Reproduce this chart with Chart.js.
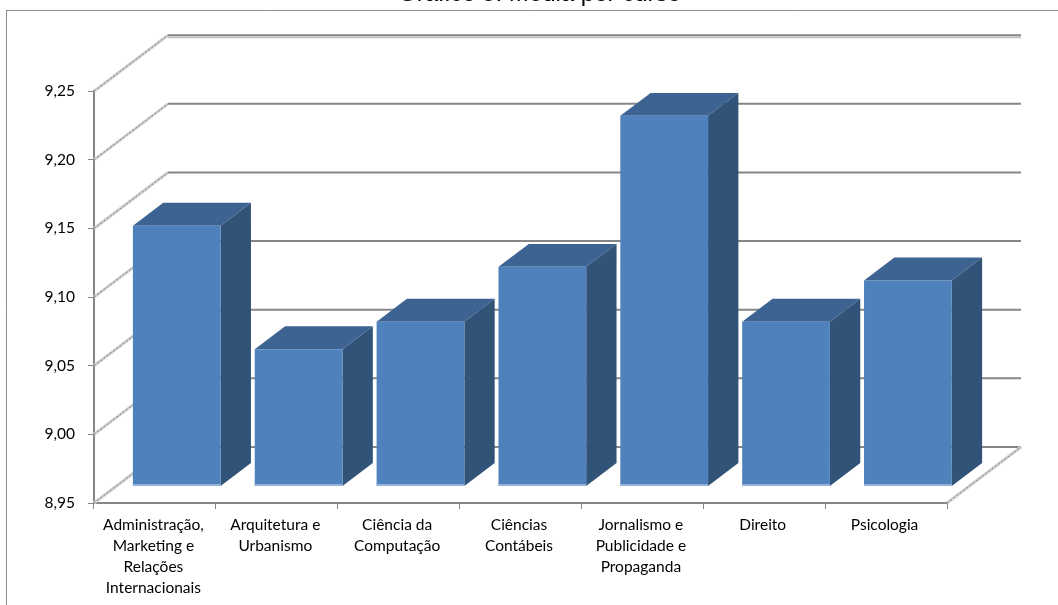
<!DOCTYPE html>
<html>
<head>
<meta charset="utf-8">
<title>Gráfico 5</title>
<script src="https://cdn.jsdelivr.net/npm/chart.js@4/dist/chart.umd.min.js"></script>
<style>
  html, body { margin: 0; padding: 0; width: 1058px; height: 605px; overflow: hidden; background: #fff; }
  /* canvas starts above the window: the title is cut off at the top in the reference */
  #chart { position: absolute; left: 0; top: -22px; }
</style>
</head>
<body>
<canvas id="chart" width="1058" height="627"></canvas>
<script>
const categories = [
    ['Administração,', 'Marketing e', 'Relações', 'Internacionais'],
    ['Arquitetura e', 'Urbanismo'],
    ['Ciência da', 'Computação'],
    ['Ciências', 'Contábeis'],
    ['Jornalismo e', 'Publicidade e', 'Propaganda'],
    'Direito',
    'Psicologia'
];
const medias = [9.14, 9.05, 9.07, 9.11, 9.22, 9.07, 9.10];
const chartTitle = 'Gráfico 5: Média por curso';

const yMin = 8.95;
const yMax = 9.25;
const yStep = 0.05;

// depth of the fake 3D box, in pixels
const wallDx = 74;
const wallDy = -56;
const barDepth = 0.41;
const barOffset = (1 - barDepth) / 2;

const gridColor = '#868686';
const faceColor = '#4f81bd';
const topColor = '#3c6391';
const sideColor = '#325378';
const baseColor = '#95b3d7';

function line(ctx, x1, y1, x2, y2, color, width, dash) {
    ctx.save();
    ctx.strokeStyle = color;
    ctx.lineWidth = width;
    ctx.setLineDash(dash || []);
    ctx.beginPath();
    ctx.moveTo(x1, y1);
    ctx.lineTo(x2, y2);
    ctx.stroke();
    ctx.restore();
}

function poly(ctx, color, pts) {
    ctx.fillStyle = color;
    ctx.beginPath();
    pts.forEach((p, i) => i ? ctx.lineTo(p[0], p[1]) : ctx.moveTo(p[0], p[1]));
    ctx.closePath();
    ctx.fill();
}

// speckled diagonal of the side wall
function diagonal(ctx, x, y) {
    line(ctx, x, y, x + wallDx, y + wallDy, '#d0d0d0', 3);
    line(ctx, x, y, x + wallDx, y + wallDy, '#808080', 1, [2, 2]);
}

const frame = {
    id: 'frame',
    afterLayout(chart) {
        // title sits over the middle of the whole outline, not of the plot
        chart.titleBlock.left = 0;
        chart.titleBlock.right = 1079;
    },
    beforeDraw(chart) {
        const ctx = chart.ctx;
        // chart outline, top and left sides only are inside the window
        line(ctx, 6.5, 32.5, 1058, 32.5, '#8c8c8c', 1);
        line(ctx, 6.5, 32, 6.5, 627, '#8c8c8c', 1);
    }
};

const walls = {
    id: 'walls',
    beforeDatasetsDraw(chart) {
        const ctx = chart.ctx;
        const y = chart.scales.y;
        const a = chart.chartArea;
        y.ticks.forEach(t => {
            const py = y.getPixelForValue(t.value);
            diagonal(ctx, a.left, py);
            line(ctx, a.left + wallDx, py + wallDy, a.right + wallDx, py + wallDy, gridColor, 2);
        });
        // lighter lower edge on the top line
        const top = y.getPixelForValue(yMax) + wallDy;
        line(ctx, a.left + wallDx, top + 2, a.right + wallDx, top + 2, '#c4c4c4', 2);
        diagonal(ctx, a.right, a.bottom);
    }
};

const boxes = {
    id: 'boxes',
    beforeDatasetsDraw(chart) {
        const ctx = chart.ctx;
        ctx.save();
        // the columns stand in the middle of the floor, not on its front edge
        ctx.translate(wallDx * barOffset, wallDy * barOffset);
        const dx = wallDx * barDepth;
        const dy = wallDy * barDepth;
        chart.getDatasetMeta(0).data.forEach(bar => {
            const l = bar.x - bar.width / 2;
            const r = bar.x + bar.width / 2;
            const t = bar.y;
            const b = bar.base;
            poly(ctx, topColor, [[l, t], [r, t], [r + dx, t + dy], [l + dx, t + dy]]);
            poly(ctx, sideColor, [[r, t], [r + dx, t + dy], [r + dx, b + dy], [r, b]]);
        });
    },
    afterDatasetsDraw(chart) {
        const ctx = chart.ctx;
        chart.getDatasetMeta(0).data.forEach(bar => {
            const l = bar.x - bar.width / 2;
            const r = bar.x + bar.width / 2;
            line(ctx, l, bar.base - 1, r, bar.base - 1, baseColor, 2);
        });
        ctx.restore();
    }
};

new Chart(document.getElementById('chart'), {
    type: 'bar',
    data: {
        labels: categories,
        datasets: [{
            label: 'Média',
            data: medias,
            base: yMin,
            backgroundColor: faceColor,
            borderWidth: 0,
            barPercentage: 0.72,
            categoryPercentage: 1,
            clip: false
        }]
    },
    options: {
        responsive: false,
        animation: false,
        layout: { padding: { left: 0, right: 111, top: 0, bottom: 0 } },
        plugins: {
            legend: { display: false },
            tooltip: { enabled: false },
            title: {
                display: true,
                text: chartTitle,
                color: '#000',
                font: { family: '"Liberation Sans"', size: 24, weight: 'normal' },
                padding: { top: 2, bottom: 82.4 }
            }
        },
        scales: {
            x: {
                afterFit(scale) { scale.height = 102; },
                grid: { drawOnChartArea: false, color: gridColor, tickLength: 6 },
                border: { color: gridColor, width: 2 },
                ticks: {
                    color: '#000',
                    maxRotation: 0,
                    autoSkip: false,
                    padding: 5,
                    labelOffset: -1.5,
                    font: { family: 'Lato', size: 15.5, lineHeight: 1.355 }
                }
            },
            y: {
                min: yMin,
                max: yMax,
                afterFit(scale) { scale.width = 94; },
                grid: { drawOnChartArea: false, color: gridColor, tickLength: 6 },
                border: { color: gridColor, width: 2 },
                ticks: {
                    stepSize: yStep,
                    color: '#000',
                    padding: 13,
                    font: { family: 'Lato', size: 15.5 },
                    callback: v => v.toFixed(2).replace('.', ',')
                }
            }
        }
    },
    plugins: [frame, walls, boxes]
});
</script>
</body>
</html>
